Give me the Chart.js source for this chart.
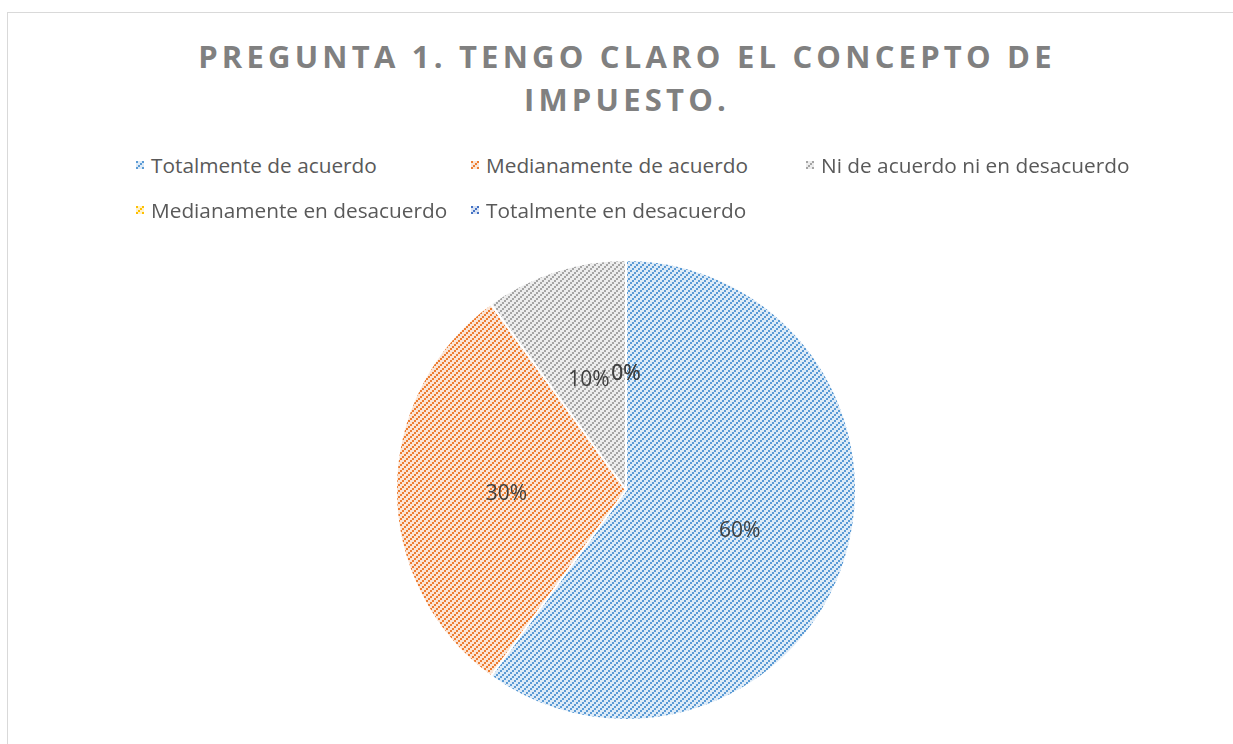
<!DOCTYPE html>
<html>
<head>
<meta charset="utf-8">
<script src="https://cdn.jsdelivr.net/npm/chart.js@4.4.1/dist/chart.umd.min.js"></script>
<style>
  html, body { margin: 0; padding: 0; background: #fff; }
  body { width: 1233px; height: 744px; position: relative; overflow: hidden; }
  .frame {
    position: absolute; left: 7px; top: 12px; width: 1400px; height: 900px;
    border: 1px solid #d9d9d9; box-sizing: border-box;
  }
  .title {
    position: absolute; left: 0; width: 1254px; top: 35px; text-align: center;
    font-family: 'Open Sans', sans-serif; font-weight: 700; font-size: 31px;
    letter-spacing: 4.2px; line-height: 43px; color: #808080;
  }
  .legend {
    position: absolute; left: 136px; top: 149px; width: 1010px;
    display: grid; grid-template-columns: 335px 335px 335px; row-gap: 13px;
    font-family: 'Open Sans', sans-serif; font-size: 20.8px; color: #595959;
  }
  .legend span { display: flex; align-items: center; height: 32px; white-space: nowrap; }
  .legend canvas { margin-right: 7px; }
  #chart { position: absolute; left: 0; top: 0; }
</style>
</head>
<body>
<div class="frame"></div>
<div class="title">PREGUNTA 1. TENGO CLARO EL CONCEPTO DE<br>IMPUESTO.</div>
<div class="legend" id="legend"></div>
<canvas id="chart" width="1233" height="744"></canvas>
<script>
const categories = [
  'Totalmente de acuerdo',
  'Medianamente de acuerdo',
  'Ni de acuerdo ni en desacuerdo',
  'Medianamente en desacuerdo',
  'Totalmente en desacuerdo'
];
const values = [60, 30, 10, 0, 0];
const fgColors = ['#5b9bd5', '#ed7d31', '#a5a5a5', '#ffc000', '#4472c4'];
const bgColors = ['#deebf7', '#fbe5d6', '#ededed', '#fff2cc', '#dae3f3'];

// upward diagonal stripes made of 2x2 blocks, like the office pattern fill
function makePattern(fg, bg) {
  const tile = document.createElement('canvas');
  tile.width = 6;
  tile.height = 6;
  const c = tile.getContext('2d');
  c.fillStyle = bg;
  c.fillRect(0, 0, 6, 6);
  c.fillStyle = fg;
  for (let by = 0; by < 3; by++) {
    for (let bx = 0; bx < 3; bx++) {
      if ((bx + by) % 3 === 0) c.fillRect(bx * 2, by * 2, 2, 2);
    }
  }
  return tile;
}

const ctx = document.getElementById('chart').getContext('2d');
const patterns = fgColors.map((fg, i) => ctx.createPattern(makePattern(fg, bgColors[i]), 'repeat'));

const sliceLabels = {
  id: 'sliceLabels',
  afterDatasetsDraw(chart) {
    const c = chart.ctx;
    const data = chart.data.datasets[0].data;
    const total = data.reduce((a, b) => a + b, 0);
    c.save();
    c.font = '21px "Open Sans", sans-serif';
    c.fillStyle = '#404040';
    c.textAlign = 'center';
    c.textBaseline = 'middle';
    chart.getDatasetMeta(0).data.forEach((arc, i) => {
      const p = arc.getProps(['x', 'y', 'startAngle', 'endAngle', 'outerRadius'], true);
      const mid = (p.startAngle + p.endAngle) / 2;
      const r = p.outerRadius * 0.52;
      const txt = Math.round(data[i] / total * 100) + '%';
      c.fillText(txt, p.x + Math.cos(mid) * r, p.y + Math.sin(mid) * r + 4);
    });
    c.restore();
  }
};

const chart = new Chart(ctx, {
  type: 'pie',
  data: {
    labels: categories,
    datasets: [{
      data: values,
      backgroundColor: patterns,
      borderColor: '#ffffff',
      borderWidth: 2
    }]
  },
  options: {
    responsive: false,
    animation: false,
    layout: { padding: { top: 259, bottom: 23, left: 300, right: 281 } },
    plugins: {
      legend: { display: false },
      tooltip: { enabled: false }
    }
  },
  plugins: [sliceLabels]
});

// legend built from the same categories / colours
const legendEl = document.getElementById('legend');
categories.forEach((name, i) => {
  const item = document.createElement('span');
  const box = document.createElement('canvas');
  box.width = 8;
  box.height = 8;
  const bctx = box.getContext('2d');
  bctx.fillStyle = bctx.createPattern(makePattern(fgColors[i], bgColors[i]), 'repeat');
  bctx.fillRect(0, 0, 8, 8);
  item.appendChild(box);
  item.appendChild(document.createTextNode(name));
  legendEl.appendChild(item);
});
</script>
</body>
</html>
